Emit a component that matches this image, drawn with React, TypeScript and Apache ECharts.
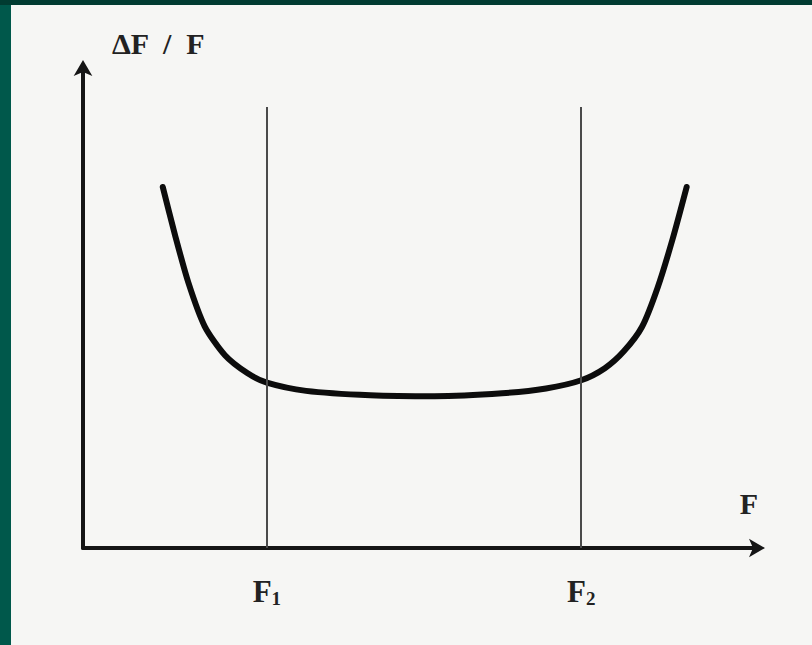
import React, { useEffect, useRef } from "react";
import * as echarts from "echarts";

// Curve of relative error ΔF/F versus F (x, y in arbitrary units 0..100)
const curveX = [11.8, 13.6, 15.6, 18.0, 21.0, 24.3, 27.2, 33.0, 42.5, 52.0, 62.0, 68.5, 73.7, 77.2, 80.0, 82.7, 85.0, 87.2, 89.3];
const curveY = [74.9, 65.0, 55.0, 46.0, 40.0, 36.3, 34.3, 32.6, 31.7, 31.5, 32.1, 33.1, 34.8, 37.3, 40.8, 45.9, 54.0, 64.0, 74.9];

// Boundaries of the working range
const boundaryX = [27.2, 73.7];
const boundaryNames = ["1", "2"];
const boundaryTop = 91.5;

const yName = "ΔF  /  F";
const xName = "F";

export default function App() {
  const ref = useRef<HTMLDivElement>(null);
  useEffect(() => {
    if (!ref.current) return;
    const chart = echarts.init(ref.current, null, { renderer: "svg" });
    const serif = "'Liberation Serif', 'DejaVu Serif', serif";
    chart.setOption({
      animation: false,
      backgroundColor: "#f6f6f4",
      grid: { left: 72, top: 61, right: 53, bottom: 97 },
      xAxis: {
        type: "value",
        min: 0,
        max: 100,
        splitLine: { show: false },
        axisTick: { show: false },
        name: xName,
        nameLocation: "end",
        nameGap: -10,
        nameTextStyle: {
          fontFamily: serif,
          fontWeight: "bold",
          fontSize: 30,
          color: "#222",
          align: "center",
          verticalAlign: "bottom",
          padding: [0, 0, 30, 0],
        },
        axisLine: {
          show: true,
          symbol: ["none", "arrow"],
          symbolSize: [14, 16],
          symbolOffset: [0, 6],
          lineStyle: { color: "#151515", width: 4 },
        },
        axisLabel: {
          show: true,
          customValues: boundaryX,
          margin: 26,
          formatter: (v: number) => {
            const i = boundaryX.indexOf(v);
            return i >= 0 ? `{f|F}{s|${boundaryNames[i]}}` : "";
          },
          rich: {
            f: { fontFamily: serif, fontWeight: "bold", fontSize: 31, color: "#222" },
            s: { fontFamily: serif, fontWeight: "bold", fontSize: 19, color: "#222", verticalAlign: "bottom", padding: [15, 0, 0, 0] },
          },
        },
      },
      yAxis: {
        type: "value",
        min: 0,
        max: 100,
        splitLine: { show: false },
        axisTick: { show: false },
        axisLabel: { show: false },
        name: yName,
        nameLocation: "end",
        nameGap: 8,
        nameTextStyle: {
          fontFamily: serif,
          fontWeight: "bold",
          fontSize: 30,
          color: "#222",
          align: "left",
          padding: [0, 0, 0, 29],
        },
        axisLine: {
          show: true,
          symbol: ["none", "arrow"],
          symbolSize: [14, 16],
          symbolOffset: [0, 6],
          lineStyle: { color: "#151515", width: 4 },
        },
      },
      series: [
        {
          type: "line",
          data: curveX.map((x, i) => [x, curveY[i]]),
          smooth: 0.25,
          showSymbol: false,
          symbol: "none",
          lineStyle: { color: "#0c0c0c", width: 6, cap: "round", join: "round" },
          z: 3,
          markLine: {
            silent: true,
            symbol: ["none", "none"],
            label: { show: false },
            lineStyle: { color: "#4a4a4a", width: 2, type: "solid" },
            data: boundaryX.map((x) => [
              { coord: [x, 0] },
              { coord: [x, boundaryTop] },
            ]),
          },
        },
      ],
    });
    return () => chart.dispose();
  }, []);

  return (
    <div style={{ position: "fixed", left: 0, top: 0, width: 812, height: 645, background: "#00584b" }}>
      <div style={{ position: "absolute", left: 0, top: 0, width: 812, height: 5, background: "#013b31" }} />
      <div ref={ref} style={{ position: "absolute", left: 11, top: 5, width: 801, height: 640 }} />
    </div>
  );
}
